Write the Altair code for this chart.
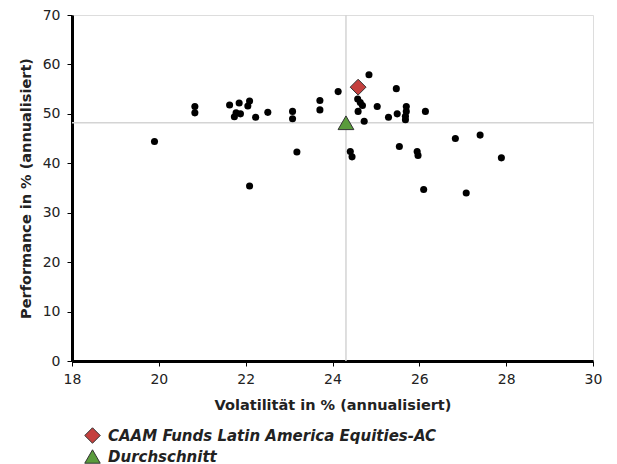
import altair as alt
import pandas as pd

peers_vol = [19.9, 20.83, 20.83, 21.63, 21.85, 21.78, 21.74, 21.88, 22.05, 22.09, 22.23, 22.51,
             22.09, 23.08, 23.08, 23.18, 23.71, 23.71, 24.84, 24.13, 25.47, 24.58, 24.64, 24.69,
             24.59, 25.03, 24.73, 25.29, 25.49, 25.7, 25.7, 25.68, 25.68, 26.14, 24.41, 24.45,
             25.54, 25.95, 25.97, 26.83, 27.40, 27.89, 26.10, 27.08]
peers_perf = [44.4, 51.5, 50.2, 51.8, 52.2, 50.2, 49.4, 50.0, 51.6, 52.6, 49.3, 50.3,
              35.4, 50.5, 49.0, 42.3, 52.7, 50.8, 57.9, 54.5, 55.1, 53.0, 52.3, 51.7,
              50.5, 51.5, 48.5, 49.3, 50.0, 51.5, 50.5, 49.5, 48.8, 50.5, 42.4, 41.3,
              43.4, 42.4, 41.6, 45.0, 45.7, 41.1, 34.7, 34.0]

series_names = ["CAAM Funds Latin America Equities-AC", "Durchschnitt"]
series_vol = [24.59, 24.31]
series_perf = [55.4, 48.2]
series_colors = ["#c4403e", "#5a9b3c"]
series_shapes = ["diamond", "triangle-up"]

avg_vol = series_vol[1]
avg_perf = series_perf[1]

x_ticks = [18, 20, 22, 24, 26, 28, 30]
y_ticks = [0, 10, 20, 30, 40, 50, 60, 70]

peers = pd.DataFrame({"vol": peers_vol, "perf": peers_perf})
series = pd.DataFrame({"name": series_names, "vol": series_vol, "perf": series_perf})

FONT = "DejaVu Sans"

xs = alt.Scale(domain=[18, 30], nice=False, zero=False)
ys = alt.Scale(domain=[0, 70], nice=False)

x_axis = alt.Axis(title="Volatilität in % (annualisiert)", values=x_ticks, grid=False,
                  labelFlush=False, labelOverlap=False,
                  domainColor="black", domainWidth=3, tickColor="black", tickSize=5, tickWidth=1,
                  labelFont=FONT, labelFontSize=14, labelColor="#222", labelPadding=6,
                  titleFont=FONT, titleFontSize=14.5, titleFontWeight="bold", titleColor="#222",
                  titlePadding=12)
y_axis = alt.Axis(title="Performance in % (annualisiert)", values=y_ticks, grid=False,
                  labelFlush=False, labelOverlap=False,
                  domainColor="black", domainWidth=3, tickColor="black", tickSize=5, tickWidth=1,
                  labelFont=FONT, labelFontSize=14, labelColor="#222", labelPadding=7,
                  titleFont=FONT, titleFontSize=14.5, titleFontWeight="bold", titleColor="#222",
                  titlePadding=9)

vline = alt.Chart(pd.DataFrame({"v": [avg_vol]})).mark_rule(color="#d4d4d4", strokeWidth=1.5).encode(
    x=alt.X("v:Q", scale=xs, axis=x_axis))
hline = alt.Chart(pd.DataFrame({"p": [avg_perf]})).mark_rule(color="#d4d4d4", strokeWidth=1.5).encode(
    y=alt.Y("p:Q", scale=ys, axis=y_axis))

pts = alt.Chart(peers).mark_point(filled=True, shape="circle", size=50, color="black", opacity=1).encode(
    x=alt.X("vol:Q", scale=xs, axis=x_axis),
    y=alt.Y("perf:Q", scale=ys, axis=y_axis),
)

sym = alt.Chart(series).mark_point(filled=True, size=250, stroke="#333", strokeWidth=1, opacity=1).encode(
    x=alt.X("vol:Q", scale=xs, axis=x_axis),
    y=alt.Y("perf:Q", scale=ys, axis=y_axis),
    color=alt.Color("name:N", scale=alt.Scale(domain=series_names, range=series_colors),
                    legend=alt.Legend(title=None, orient="none", legendX=12, legendY=412,
                                      labelFont=FONT, labelFontSize=15, labelFontWeight="bold",
                                      labelFontStyle="italic", labelColor="#222", labelOffset=7,
                                      symbolSize=240, symbolStrokeColor="#333", symbolStrokeWidth=1,
                                      rowPadding=1, labelLimit=450)),
    shape=alt.Shape("name:N", scale=alt.Scale(domain=series_names, range=series_shapes)),
)

chart = alt.layer(vline, hline, pts, sym).properties(
    width=521, height=346,
    autosize=alt.AutoSizeParams(type="none"),
    padding={"left": 64, "top": 7, "right": 16, "bottom": 104},
).configure_view(stroke=None).configure(background="white")

chart.save("out.html", embed_options={"renderer": "svg", "actions": False})
